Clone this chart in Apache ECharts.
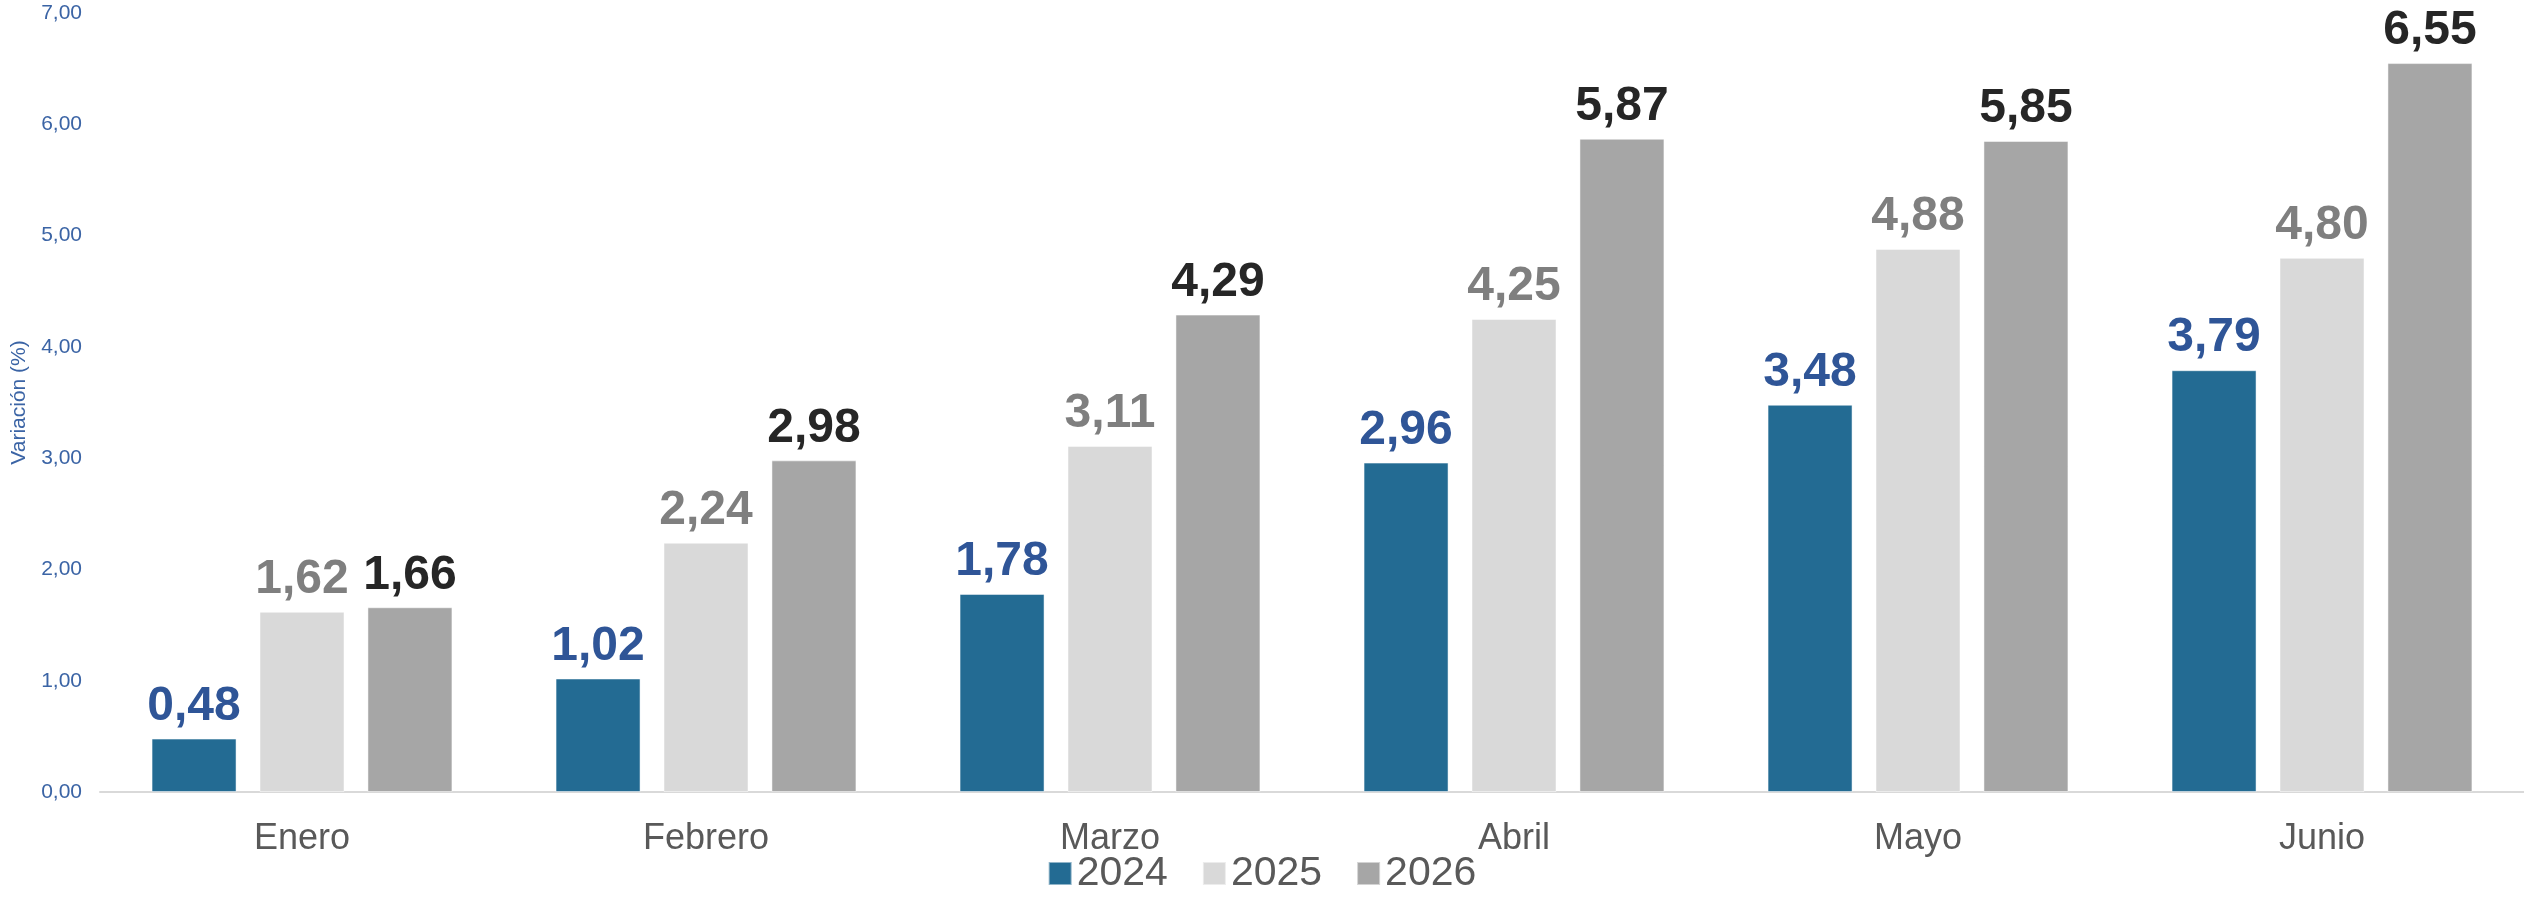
<!DOCTYPE html>
<html>
<head>
<meta charset="utf-8">
<script src="https://cdn.jsdelivr.net/npm/echarts@6/dist/echarts.min.js"></script>
<style>
  html, body { margin: 0; padding: 0; background: #fff; }
  #grafico { width: 2524px; height: 899px; }
</style>
</head>
<body>
<div id="grafico"></div>
<script>
// datos
const meses = ['Enero', 'Febrero', 'Marzo', 'Abril', 'Mayo', 'Junio'];
const anios = ['2024', '2025', '2026'];
const datos2024 = [0.48, 1.02, 1.78, 2.96, 3.48, 3.79];
const datos2025 = [1.62, 2.24, 3.11, 4.25, 4.88, 4.80];
const datos2026 = [1.66, 2.98, 4.29, 5.87, 5.85, 6.55];

const coma = (v, d) => v.toFixed(d).replace('.', ',');

const serie = (name, data, barColor, labelColor) => ({
  name: name,
  type: 'bar',
  data: data,
  barWidth: 85,
  barGap: '27%',
  itemStyle: { color: barColor, borderColor: 'rgba(255,255,255,0.5)', borderWidth: 1 },
  label: {
    show: true,
    position: 'top',
    distance: 8,
    fontFamily: 'Liberation Sans, Arial, sans-serif',
    fontSize: 48,
    fontWeight: 'bold',
    color: labelColor,
    formatter: (p) => coma(p.value, 2)
  }
});

let myChart = echarts.init(document.getElementById('grafico'));
const option = {
  animation: false,
  textStyle: { fontFamily: 'Liberation Sans, Arial, sans-serif' },
  grid: { left: 100, right: 0, top: 13, bottom: 107, containLabel: false },
  legend: {
    data: anios,
    bottom: 0,
    left: 'center',
    itemWidth: 23,
    itemHeight: 23,
    itemGap: 34,
    icon: 'rect',
    textStyle: { fontSize: 41, color: '#595959' }
  },
  xAxis: {
    type: 'category',
    data: meses,
    axisLine: { lineStyle: { color: '#d9d9d9', width: 2 } },
    axisTick: { show: false },
    axisLabel: { fontSize: 36, color: '#595959', margin: 29 }
  },
  yAxis: {
    type: 'value',
    min: 0,
    max: 7,
    interval: 1,
    name: 'Variación (%)',
    nameLocation: 'middle',
    nameGap: 70,
    nameTextStyle: { fontSize: 21, color: '#3B64A5' },
    splitLine: { show: false },
    axisLine: { show: false },
    axisLabel: { fontSize: 21, color: '#3B64A5', margin: 18, formatter: (v) => coma(v, 2) }
  },
  series: [
    serie('2024', datos2024, '#236B93', '#2F5597'),
    serie('2025', datos2025, '#D9D9D9', '#7F7F7F'),
    serie('2026', datos2026, '#A6A6A6', '#262626')
  ]
};
myChart.setOption(option);
</script>
</body>
</html>
